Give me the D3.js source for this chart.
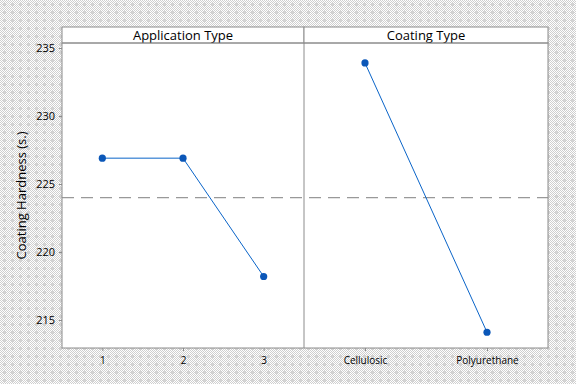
<!DOCTYPE html>
<html>
<head>
<meta charset="utf-8">
<script src="https://cdn.jsdelivr.net/npm/d3@7"></script>
<style>
  body { margin: 0; }
  text { font-family: "Open Sans", "Noto Sans", sans-serif; fill: #000; }
</style>
</head>
<body>
<div id="canvas"></div>
<script>
const w = 576;
const h = 384;

// main effects data
const appLevels = ["1", "2", "3"];
const appMeans = [226.9, 226.9, 218.2];
const coatLevels = ["Cellulosic", "Polyurethane"];
const coatMeans = [233.9, 214.1];
const grandMean = 224.0;
const yTicks = [215, 220, 225, 230, 235];
const panelTitles = ["Application Type", "Coating Type"];

const left = 62, right = 548, divide = 304;
const stripTop = 27, plotTop = 43, plotBottom = 348;

let svg = d3.select("#canvas").append("svg").attr("width", w).attr("height", h);

// checkered background like the original export
let defs = svg.append("defs");
let pat = defs.append("pattern").attr("id", "chk").attr("width", 8).attr("height", 8)
  .attr("patternUnits", "userSpaceOnUse");
pat.append("rect").attr("width", 8).attr("height", 8).attr("fill", "#fff");
for (let i = 0; i < 8; i++) {
  for (let j = 0; j < 8; j++) {
    if ((i + j) % 2 == 0) pat.append("rect").attr("x", i).attr("y", j).attr("width", 1).attr("height", 1)
      .attr("fill", "#cfcfcf").attr("shape-rendering", "crispEdges");
  }
}
pat.append("rect").attr("x", 3).attr("y", 4).attr("width", 3).attr("height", 1).attr("fill", "#d4d4d4").attr("shape-rendering", "crispEdges");
pat.append("rect").attr("x", 4).attr("y", 3).attr("width", 1).attr("height", 3).attr("fill", "#d4d4d4").attr("shape-rendering", "crispEdges");
svg.append("rect").attr("width", w).attr("height", h).attr("fill", "url(#chk)");

let y = d3.scaleLinear().domain([215, 235]).range([320, 48]);

// plot area
svg.append("rect").attr("x", left).attr("y", plotTop).attr("width", right - left).attr("height", plotBottom - plotTop)
  .attr("fill", "#fff");

// strips
[[left, divide], [divide, right]].forEach((p, i) => {
  svg.append("rect").attr("x", p[0]).attr("y", stripTop).attr("width", p[1] - p[0]).attr("height", plotTop - stripTop)
    .attr("fill", "#fff").attr("stroke", "#8c8c8c");
  svg.append("text").attr("x", (p[0] + p[1]) / 2).attr("y", stripTop + 12.5)
    .attr("text-anchor", "middle").attr("font-size", 13).text(panelTitles[i]);
});

// reference line for the overall mean
svg.append("line").attr("x1", left).attr("x2", right).attr("y1", y(grandMean)).attr("y2", y(grandMean))
  .attr("stroke", "#999").attr("stroke-width", 1.2).attr("stroke-dasharray", "12,7");

svg.append("rect").attr("x", left).attr("y", plotTop).attr("width", right - left).attr("height", plotBottom - plotTop)
  .attr("fill", "none").attr("stroke", "#8c8c8c");
svg.append("line").attr("x1", divide).attr("x2", divide).attr("y1", plotTop).attr("y2", plotBottom).attr("stroke", "#8c8c8c");

// y axis
let yAxis = svg.append("g").attr("transform", "translate(" + left + ",0)")
  .call(d3.axisLeft(y).tickValues(yTicks).tickSize(3).tickPadding(4));
yAxis.select(".domain").remove();
yAxis.selectAll("line").attr("stroke", "#8c8c8c");
yAxis.selectAll("text").attr("font-size", 11).attr("font-family", "Open Sans, sans-serif");

svg.append("text").attr("transform", "translate(26," + ((plotTop + plotBottom) / 2) + ") rotate(-90)")
  .attr("text-anchor", "middle").attr("font-size", 13).attr("font-weight", 500).text("Coating Hardness (s.)");

function panel(levels, means, x0, x1) {
  let x = d3.scalePoint().domain(levels).range([x0, x1]).padding(0.5);
  let ax = svg.append("g").attr("transform", "translate(0," + plotBottom + ")")
    .call(d3.axisBottom(x).tickSize(3).tickPadding(6));
  ax.select(".domain").remove();
  ax.selectAll("line").attr("stroke", "#8c8c8c");
  ax.selectAll("text").attr("font-size", 10).attr("font-family", "Open Sans, sans-serif");

  let pts = levels.map((l, i) => [x(l), y(means[i])]);
  svg.append("path").attr("d", d3.line()(pts)).attr("fill", "none")
    .attr("stroke", "#0a64c8").attr("stroke-width", 1);
  svg.selectAll(null).data(pts).enter().append("circle")
    .attr("cx", (d) => d[0]).attr("cy", (d) => d[1]).attr("r", 3.6)
    .attr("fill", "#0b57b8");
}

panel(appLevels, appMeans, left, divide);
panel(coatLevels, coatMeans, divide, right);
</script>
</body>
</html>
